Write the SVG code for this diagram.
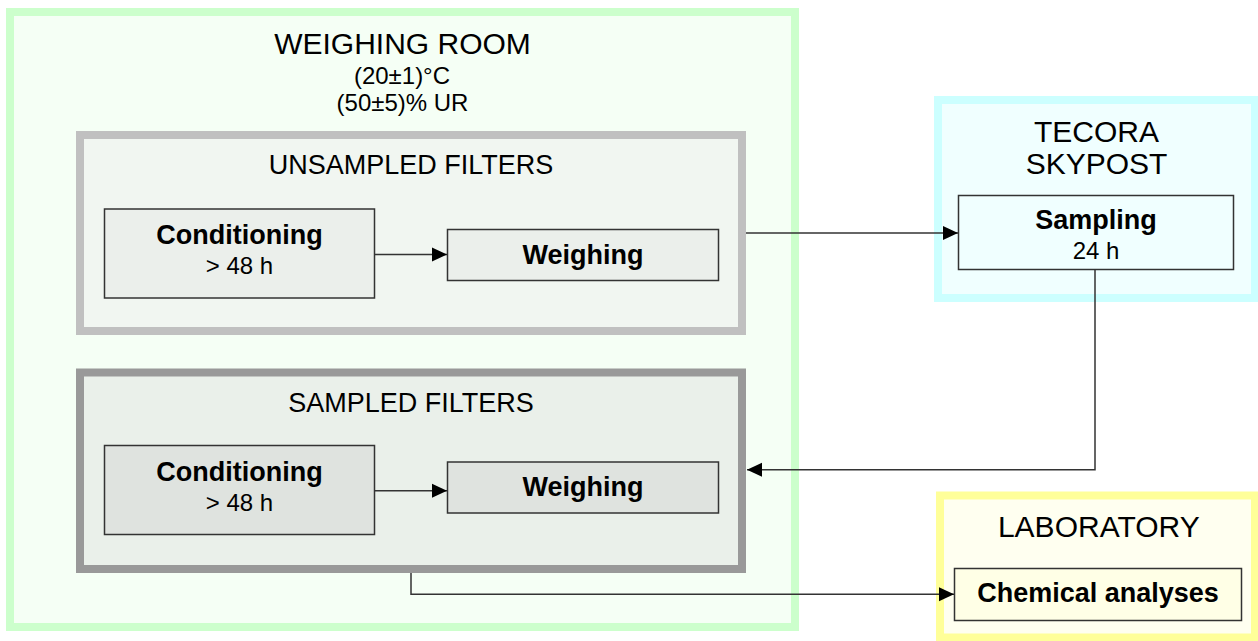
<svg xmlns="http://www.w3.org/2000/svg" width="1258" height="641" viewBox="0 0 1258 641">
  <defs>
    <marker id="arrow" markerUnits="userSpaceOnUse" markerWidth="16" markerHeight="16" viewBox="0 0 16 16" refX="15" refY="8" orient="auto">
      <path d="M0,1 L15,8 L0,15 Z" fill="#000"/>
    </marker>
    <style>
      text { font-family: "Liberation Sans", Arial, sans-serif; fill: #000; text-anchor: middle; }
      .title { font-size: 30px; }
      .sub { font-size: 24px; }
      .group-label { font-size: 27px; }
      .bold { font-size: 27px; font-weight: bold; }
      .note { font-size: 24px; }
      .box { stroke: #333; stroke-width: 1.5; }
      .link { fill: none; stroke: #333; stroke-width: 1.5; }
    </style>
  </defs>
  <rect width="1258" height="641" fill="#fff"/>

  <!-- Weighing room -->
  <g id="weighing-room">
    <rect x="10" y="12" width="785" height="615" fill="#f5fff5" stroke="#ccffcc" stroke-width="8"/>
    <text class="title" x="402.5" y="53.5">WEIGHING ROOM</text>
    <text class="sub" x="402" y="83.5">(20±1)°C</text>
    <text class="sub" x="402.5" y="110.5">(50±5)% UR</text>
  </g>

  <!-- Unsampled filters -->
  <g id="unsampled-filters">
    <rect x="80" y="135" width="662" height="196" fill="#f1f6f1" stroke="#c0c0c0" stroke-width="8"/>
    <text class="group-label" x="411" y="174">UNSAMPLED FILTERS</text>
  </g>
  <g id="unsampled-conditioning">
    <rect class="box" x="104.5" y="209" width="270" height="89" fill="#ebefeb"/>
    <text class="bold" x="239.5" y="244">Conditioning</text>
    <text class="note" x="239.5" y="274">&gt; 48 h</text>
  </g>
  <g id="unsampled-weighing">
    <rect class="box" x="447.5" y="229.5" width="271" height="51" fill="#ebefeb"/>
    <text class="bold" x="583" y="263.5">Weighing</text>
  </g>

  <!-- Sampled filters -->
  <g id="sampled-filters">
    <rect x="80" y="372.5" width="662" height="196.5" fill="#eaf0ea" stroke="#999" stroke-width="8"/>
    <text class="group-label" x="411" y="412.3">SAMPLED FILTERS</text>
  </g>
  <g id="sampled-conditioning">
    <rect class="box" x="104.5" y="445.5" width="270" height="89" fill="#dfe3df"/>
    <text class="bold" x="239.5" y="480.5">Conditioning</text>
    <text class="note" x="239.5" y="510.5">&gt; 48 h</text>
  </g>
  <g id="sampled-weighing">
    <rect class="box" x="447.5" y="462" width="271" height="51" fill="#dfe3df"/>
    <text class="bold" x="583" y="496">Weighing</text>
  </g>

  <!-- Tecora Skypost -->
  <g id="tecora-skypost">
    <rect x="938" y="100" width="317" height="198" fill="#f0ffff" stroke="#ccffff" stroke-width="8"/>
    <text class="title" x="1096.5" y="141.7">TECORA</text>
    <text class="title" x="1096.5" y="174.3">SKYPOST</text>
  </g>
  <g id="sampling">
    <rect class="box" x="958.5" y="195.5" width="275" height="74" fill="#f0ffff"/>
    <text class="bold" x="1096" y="229.3">Sampling</text>
    <text class="note" x="1096" y="259.3">24 h</text>
  </g>

  <!-- Laboratory -->
  <g id="laboratory">
    <rect x="940" y="495.5" width="315" height="142" fill="#fffff0" stroke="#ffff99" stroke-width="8"/>
    <text class="title" x="1098.8" y="536.7">LABORATORY</text>
  </g>
  <g id="chemical-analyses">
    <rect class="box" x="954.5" y="568.5" width="287" height="52" fill="#ffffe6"/>
    <text class="bold" x="1098" y="601.7">Chemical analyses</text>
  </g>

  <!-- Connectors -->
  <g id="connectors">
    <path class="link" d="M374.5,254.5 L447,254.5" marker-end="url(#arrow)"/>
    <path class="link" d="M374.5,490.7 L447,490.7" marker-end="url(#arrow)"/>
    <path class="link" d="M746,233 L958,233" stroke="#666" marker-end="url(#arrow)"/>
    <path class="link" d="M1095,269.5 L1095,469.8 L747,469.8" marker-end="url(#arrow)"/>
    <path class="link" d="M411,573 L411,594.3 L954,594.3" marker-end="url(#arrow)"/>
  </g>
</svg>
